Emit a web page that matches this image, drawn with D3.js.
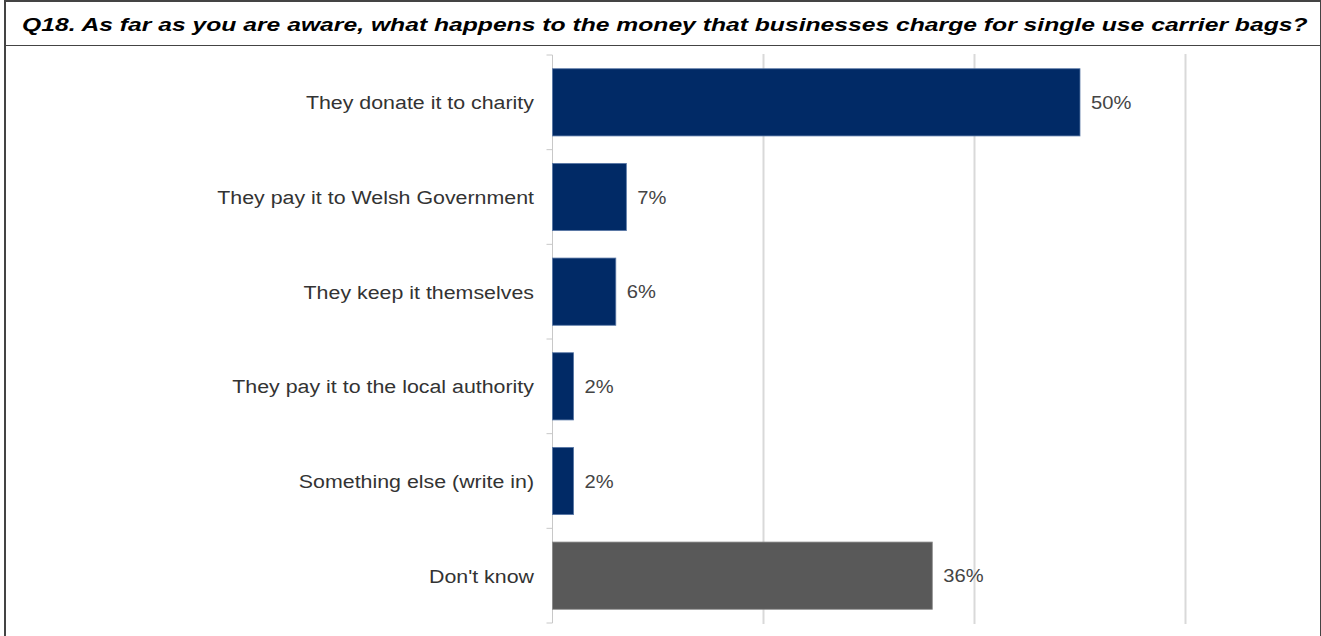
<!DOCTYPE html>
<html>
<head>
<meta charset="utf-8">
<script src="https://cdn.jsdelivr.net/npm/d3@7"></script>
<style>
  html, body { margin: 0; padding: 0; background: #fff; }
  svg { display: block; }
</style>
</head>
<body>
<svg id="chart" width="1321" height="636"></svg>
<script>
// Survey question and answers
const title = "Q18. As far as you are aware, what happens to the money that businesses charge for single use carrier bags?";
const categories = [
  "They donate it to charity",
  "They pay it to Welsh Government",
  "They keep it themselves",
  "They pay it to the local authority",
  "Something else (write in)",
  "Don't know"
];
const values = [50, 7, 6, 2, 2, 36];
const gridTicks = [20, 40, 60];

const svg = d3.select("#chart");
const W = 1321, H = 636;
const FONT = "'Liberation Sans', Arial, sans-serif";

// Frame: outer box and the title strip
svg.append("rect").attr("x", 0).attr("y", 0).attr("width", W).attr("height", H).attr("fill", "#fff");
svg.append("line").attr("x1", 5).attr("x2", 5).attr("y1", 0).attr("y2", H)
  .attr("stroke", "#444").attr("stroke-width", 2);
svg.append("line").attr("x1", 1320.5).attr("x2", 1320.5).attr("y1", 0).attr("y2", H)
  .attr("stroke", "#444").attr("stroke-width", 1);
svg.append("line").attr("x1", 4).attr("x2", W).attr("y1", 1).attr("y2", 1)
  .attr("stroke", "#444").attr("stroke-width", 2);
svg.append("line").attr("x1", 4).attr("x2", W).attr("y1", 45.5).attr("y2", 45.5)
  .attr("stroke", "#444").attr("stroke-width", 1.2);

// Title, drawn in a horizontally widened face
svg.append("text")
  .attr("transform", "translate(22,31) scale(1.3,1)")
  .attr("font-family", FONT)
  .attr("font-size", 19)
  .attr("font-weight", "bold")
  .attr("font-style", "italic")
  .attr("fill", "#000")
  .text(title);

// Scales
const x = d3.scaleLinear().domain([0, 60]).range([552.5, 1185.5]);
const y = d3.scaleBand().domain(categories).range([55, 623])
  .paddingInner(0.29).paddingOuter(0.145);

// Vertical gridlines
svg.append("g").selectAll("line").data(gridTicks).join("line")
  .attr("x1", d => x(d)).attr("x2", d => x(d))
  .attr("y1", 54).attr("y2", 624)
  .attr("stroke", "#d9d9d9").attr("stroke-width", 2);

// Category axis on the left with ticks at band boundaries
const bounds = categories.map(c => y(c) - y.step() * y.paddingInner() / 2);
bounds.push(623);
const axisG = svg.append("g");
axisG.append("line")
  .attr("x1", x(0)).attr("x2", x(0)).attr("y1", 55).attr("y2", 623)
  .attr("stroke", "#c8c8c8").attr("stroke-width", 1);
axisG.selectAll("line.tick").data(bounds).join("line").attr("class", "tick")
  .attr("x1", x(0) - 6).attr("x2", x(0)).attr("y1", d => d).attr("y2", d => d)
  .attr("stroke", "#c8c8c8").attr("stroke-width", 1);

// Bars
const colors = categories.map((c, i) => i === categories.length - 1 ? "#595959" : "#012a66");
const strokes = categories.map((c, i) => i === categories.length - 1 ? "#8a8a8a" : "#5a78a6");
svg.append("g").selectAll("rect").data(categories).join("rect")
  .attr("x", x(0))
  .attr("y", d => y(d))
  .attr("width", (d, i) => x(values[i]) - x(0))
  .attr("height", y.bandwidth())
  .attr("fill", (d, i) => colors[i])
  .attr("stroke", (d, i) => strokes[i])
  .attr("stroke-width", 0.8);

// Category labels
svg.append("g").selectAll("text").data(categories).join("text")
  .attr("transform", d => `translate(534,${y(d) + y.bandwidth() / 2}) scale(1.125,1)`)
  .attr("dy", "0.37em")
  .attr("text-anchor", "end")
  .attr("font-family", FONT)
  .attr("font-size", 19)
  .attr("fill", "#333")
  .text(d => d);

// Value labels
svg.append("g").selectAll("text").data(categories).join("text")
  .attr("transform", (d, i) => `translate(${x(values[i]) + 11},${y(d) + y.bandwidth() / 2}) scale(1.12,1)`)
  .attr("dy", "0.37em")
  .attr("font-family", FONT)
  .attr("font-size", 18)
  .attr("fill", "#444")
  .text((d, i) => values[i] + "%");
</script>
</body>
</html>
